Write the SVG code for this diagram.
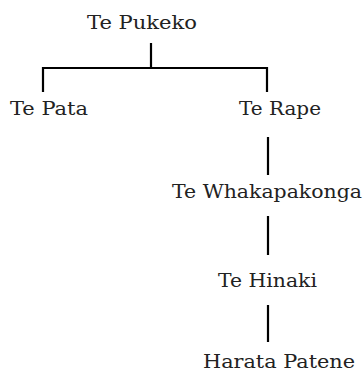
<svg xmlns="http://www.w3.org/2000/svg" width="363" height="371" viewBox="0 0 363 371">
<style>
text{font-family:"DejaVu Serif","Liberation Serif",serif;font-size:19px;fill:#222;text-anchor:middle}
.c{stroke:#000;stroke-width:2.2;fill:none}
</style>
<rect width="363" height="371" fill="#fff"/>
<g id="connectors">
<path class="c" d="M151 43V68M43 92V68H267V92"/>
<path class="c" d="M268 137V175M268 216V255M268 305V342"/>
</g>
<g id="te-pukeko"><text x="142" y="29" textLength="110" lengthAdjust="spacingAndGlyphs">Te Pukeko</text></g>
<g id="te-pata"><text x="49" y="115" textLength="78" lengthAdjust="spacingAndGlyphs">Te Pata</text></g>
<g id="te-rape"><text x="280" y="115" textLength="82" lengthAdjust="spacingAndGlyphs">Te Rape</text></g>
<g id="te-whakapakonga"><text x="267" y="198" textLength="190" lengthAdjust="spacingAndGlyphs">Te Whakapakonga</text></g>
<g id="te-hinaki"><text x="267.5" y="287" textLength="99" lengthAdjust="spacingAndGlyphs">Te Hinaki</text></g>
<g id="harata-patene"><text x="279" y="368" textLength="152" lengthAdjust="spacingAndGlyphs">Harata Patene</text></g>
</svg>
